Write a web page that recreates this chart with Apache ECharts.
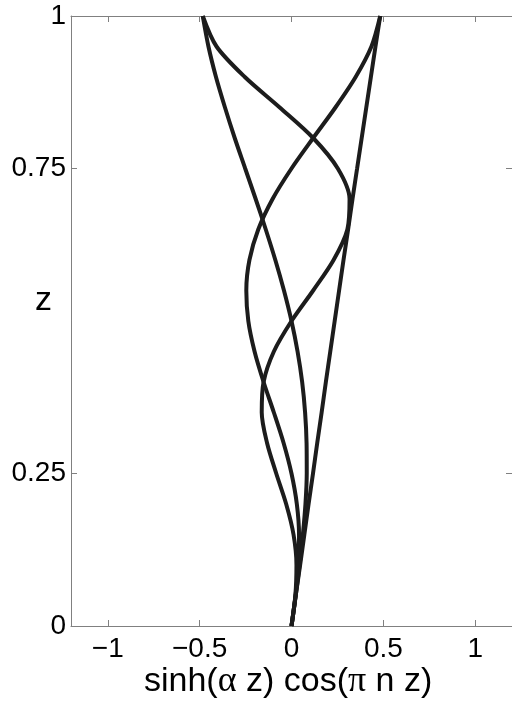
<!DOCTYPE html>
<html>
<head>
<meta charset="utf-8">
<script src="https://cdn.jsdelivr.net/npm/echarts@6/dist/echarts.min.js"></script>
<style>
  html, body { margin: 0; padding: 0; background: #fff; }
  #chart { width: 512px; height: 710px; }
</style>
</head>
<body>
<div id="chart"></div>
<script>
// depth z, sampled every 0.05
const zValues = [0, 0.05, 0.1, 0.15, 0.2, 0.25, 0.3, 0.35, 0.4, 0.45, 0.5,
  0.55, 0.6, 0.65, 0.7, 0.75, 0.8, 0.85, 0.9, 0.95, 1];

// sinh(a z) cos(pi n z), n = 0..3
const modeN0 = [0, 0.023, 0.047, 0.070, 0.093, 0.117, 0.140, 0.164, 0.187, 0.211, 0.235,
  0.259, 0.283, 0.308, 0.332, 0.357, 0.382, 0.407, 0.432, 0.457, 0.483];
const modeN1 = [0, 0.023, 0.044, 0.062, 0.076, 0.083, 0.082, 0.074, 0.058, 0.033, 0,
  -0.041, -0.088, -0.140, -0.195, -0.252, -0.309, -0.362, -0.411, -0.452, -0.483];
const modeN2 = [0, 0.022, 0.038, 0.041, 0.029, 0, -0.043, -0.096, -0.152, -0.201, -0.235,
  -0.246, -0.229, -0.181, -0.103, 0, 0.118, 0.239, 0.349, 0.435, 0.483];
const modeN3 = [0, 0.021, 0.027, 0.011, -0.029, -0.083, -0.133, -0.162, -0.152, -0.096, 0,
  0.118, 0.229, 0.304, 0.316, 0.252, 0.118, -0.064, -0.254, -0.408, -0.483];

const xTicks = [-1, -0.5, 0, 0.5, 1];
const yTicks = [0, 0.25, 0.75, 1];

const font = "'Liberation Sans', Arial, sans-serif";
const serif = "'Liberation Serif', 'Times New Roman', serif";
const axisGray = "#808080";

function pairs(xs) {
  return xs.map((x, i) => [x, zValues[i]]);
}

function fmt(v) {
  return String(v).replace("-", "\u2212");
}

const chart = echarts.init(document.getElementById("chart"));

const curve = (name, vals) => ({
  name: name,
  type: "line",
  data: pairs(vals),
  smooth: 0.3,
  showSymbol: false,
  lineStyle: { color: "#1c1c1c", width: 4 },
  animation: false,
});

const baseLine = { show: true, onZero: false, lineStyle: { color: axisGray, width: 1 } };
const ticks = (vals) => ({
  inside: true, length: 6, customValues: vals,
  lineStyle: { color: axisGray },
});

const option = {
  backgroundColor: "#fff",
  animation: false,
  grid: { left: 71, right: -2, top: 16, bottom: 84 },
  xAxis: [
    {
      type: "value",
      min: -1.2,
      max: 1.2,
      position: "bottom",
      axisLine: baseLine,
      splitLine: { show: false },
      axisTick: ticks(xTicks),
      axisLabel: {
        customValues: xTicks,
        formatter: fmt,
        margin: 9,
        fontFamily: font,
        fontSize: 28,
        color: "#000",
      },
    },
    {
      type: "value",
      min: -1.2,
      max: 1.2,
      position: "top",
      axisLine: baseLine,
      splitLine: { show: false },
      axisTick: ticks(xTicks),
      axisLabel: { show: false },
    },
  ],
  yAxis: [
    {
      type: "value",
      min: 0,
      max: 1,
      position: "left",
      axisLine: baseLine,
      splitLine: { show: false },
      axisTick: ticks(yTicks),
      axisLabel: {
        customValues: yTicks,
        margin: 5,
        fontFamily: font,
        fontSize: 28,
        color: "#000",
      },
    },
    {
      type: "value",
      min: 0,
      max: 1,
      position: "right",
      axisLine: baseLine,
      splitLine: { show: false },
      axisTick: ticks(yTicks),
      axisLabel: { show: false },
    },
  ],
  graphic: [
    {
      type: "text",
      left: 35,
      top: 284,
      style: { text: "z", font: "34px " + font, fill: "#000" },
    },
    {
      type: "text",
      left: 144,
      top: 664,
      style: {
        text: "sinh({g|\u03b1} z) cos({g|\u03c0} n z)",
        fontFamily: font,
        fontSize: 34,
        fill: "#000",
        rich: {
          g: { fontFamily: serif, fontSize: 36, fill: "#000" },
        },
      },
    },
  ],
  series: [
    curve("n0", modeN0),
    curve("n1", modeN1),
    curve("n2", modeN2),
    curve("n3", modeN3),
  ],
};

chart.setOption(option);
</script>
</body>
</html>
